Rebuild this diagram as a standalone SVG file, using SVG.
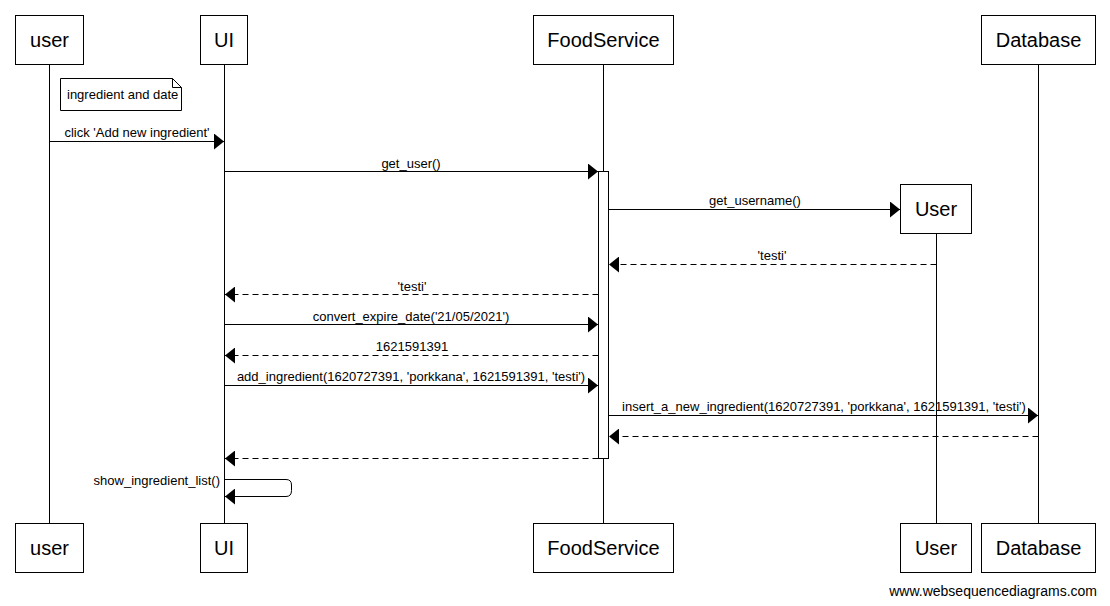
<svg xmlns="http://www.w3.org/2000/svg" width="1110" height="606" viewBox="0 0 1110 606">
<style>
text{font-family:"Liberation Sans",Arial,sans-serif;fill:#000}
.pbox{fill:#fff;stroke:#000;stroke-width:1}
.pt{font-size:20px;text-anchor:middle}
.life{stroke:#000;stroke-width:1}
.msg{stroke:#000;stroke-width:1;fill:none;marker-end:url(#ah)}
.ret{stroke:#000;stroke-width:1;fill:none;stroke-dasharray:6 4;marker-end:url(#ah)}
.ml{font-size:13px;text-anchor:middle}
</style>
<defs>
<marker id="ah" viewBox="0 0 10 16" refX="10" refY="8" markerWidth="10" markerHeight="16" orient="auto" markerUnits="userSpaceOnUse">
<path d="M0,0 L10,8 L0,16 z" fill="#000"/>
</marker>
</defs>
<rect width="1110" height="606" fill="#fff"/>
<g id="lifelines">
<line class="life" x1="49.5" y1="64" x2="49.5" y2="523"/>
<line class="life" x1="224.5" y1="64" x2="224.5" y2="523"/>
<line class="life" x1="603.5" y1="64" x2="603.5" y2="523"/>
<line class="life" x1="936.5" y1="233" x2="936.5" y2="523"/>
<line class="life" x1="1038.5" y1="64" x2="1038.5" y2="523"/>
</g>
<g id="activation">
<rect class="pbox" x="598.5" y="171.5" width="10" height="287"/>
</g>
<g id="p-user">
<rect class="pbox" x="15.5" y="15.5" width="68" height="49"/>
<text class="pt" x="49.5" y="47">user</text>
</g>
<g id="p-ui">
<rect class="pbox" x="200.5" y="15.5" width="47" height="49"/>
<text class="pt" x="224" y="47">UI</text>
</g>
<g id="p-foodservice">
<rect class="pbox" x="533.5" y="15.5" width="140" height="49"/>
<text class="pt" x="603.5" y="47">FoodService</text>
</g>
<g id="p-database">
<rect class="pbox" x="981.5" y="15.5" width="114" height="49"/>
<text class="pt" x="1038.5" y="47">Database</text>
</g>
<g id="p-User">
<rect class="pbox" x="900.5" y="184.5" width="71" height="49"/>
<text class="pt" x="936" y="216">User</text>
</g>
<g id="note">
<path d="M60.5,78.5 H172.5 L181.5,87.5 V110.5 H60.5 Z" fill="#fff" stroke="#000"/>
<path d="M172.5,78.5 V87.5 H181.5" fill="none" stroke="#000"/>
<text x="67" y="99" font-size="13">ingredient and date</text>
</g>
<g id="connectors">
<line class="msg" x1="49.5" y1="141.5" x2="224" y2="141.5"/>
<text class="ml" x="137" y="137">click 'Add new ingredient'</text>
<line class="msg" x1="224.5" y1="171.5" x2="598" y2="171.5"/>
<text class="ml" x="411" y="168">get_user()</text>
<line class="msg" x1="608.5" y1="209.5" x2="900" y2="209.5"/>
<text class="ml" x="755" y="205">get_username()</text>
<line class="ret" x1="936.5" y1="264.5" x2="609" y2="264.5"/>
<text class="ml" x="772" y="260">'testi'</text>
<line class="ret" x1="598.5" y1="294.5" x2="225" y2="294.5"/>
<text class="ml" x="412" y="291">'testi'</text>
<line class="msg" x1="224.5" y1="324.5" x2="598" y2="324.5"/>
<text class="ml" x="411" y="321">convert_expire_date('21/05/2021')</text>
<line class="ret" x1="598.5" y1="355.5" x2="225" y2="355.5"/>
<text class="ml" x="412" y="351">1621591391</text>
<line class="msg" x1="224.5" y1="385.5" x2="598" y2="385.5"/>
<text class="ml" x="411" y="381">add_ingredient(1620727391, 'porkkana', 1621591391, 'testi')</text>
<line class="msg" x1="608.5" y1="415.5" x2="1038" y2="415.5"/>
<text class="ml" x="824" y="411">insert_a_new_ingredient(1620727391, 'porkkana', 1621591391, 'testi')</text>
<line class="ret" x1="1038.5" y1="436.5" x2="609" y2="436.5"/>
<line class="ret" x1="598.5" y1="458.5" x2="225" y2="458.5"/>
<path class="msg" d="M224.5,479.5 H286 Q291.5,479.5 291.5,485 V490.5 Q291.5,496.5 286,496.5 H225"/>
<text x="220" y="485" font-size="13" text-anchor="end">show_ingredient_list()</text>
</g>
<g id="p-user-bottom">
<rect class="pbox" x="15.5" y="523.5" width="68" height="49"/>
<text class="pt" x="49.5" y="555">user</text>
</g>
<g id="p-ui-bottom">
<rect class="pbox" x="200.5" y="523.5" width="47" height="49"/>
<text class="pt" x="224" y="555">UI</text>
</g>
<g id="p-foodservice-bottom">
<rect class="pbox" x="533.5" y="523.5" width="140" height="49"/>
<text class="pt" x="603.5" y="555">FoodService</text>
</g>
<g id="p-User-bottom">
<rect class="pbox" x="900.5" y="523.5" width="71" height="49"/>
<text class="pt" x="936" y="555">User</text>
</g>
<g id="p-database-bottom">
<rect class="pbox" x="981.5" y="523.5" width="114" height="49"/>
<text class="pt" x="1038.5" y="555">Database</text>
</g>
<text x="1097" y="596" font-size="14" text-anchor="end">www.websequencediagrams.com</text>
</svg>
